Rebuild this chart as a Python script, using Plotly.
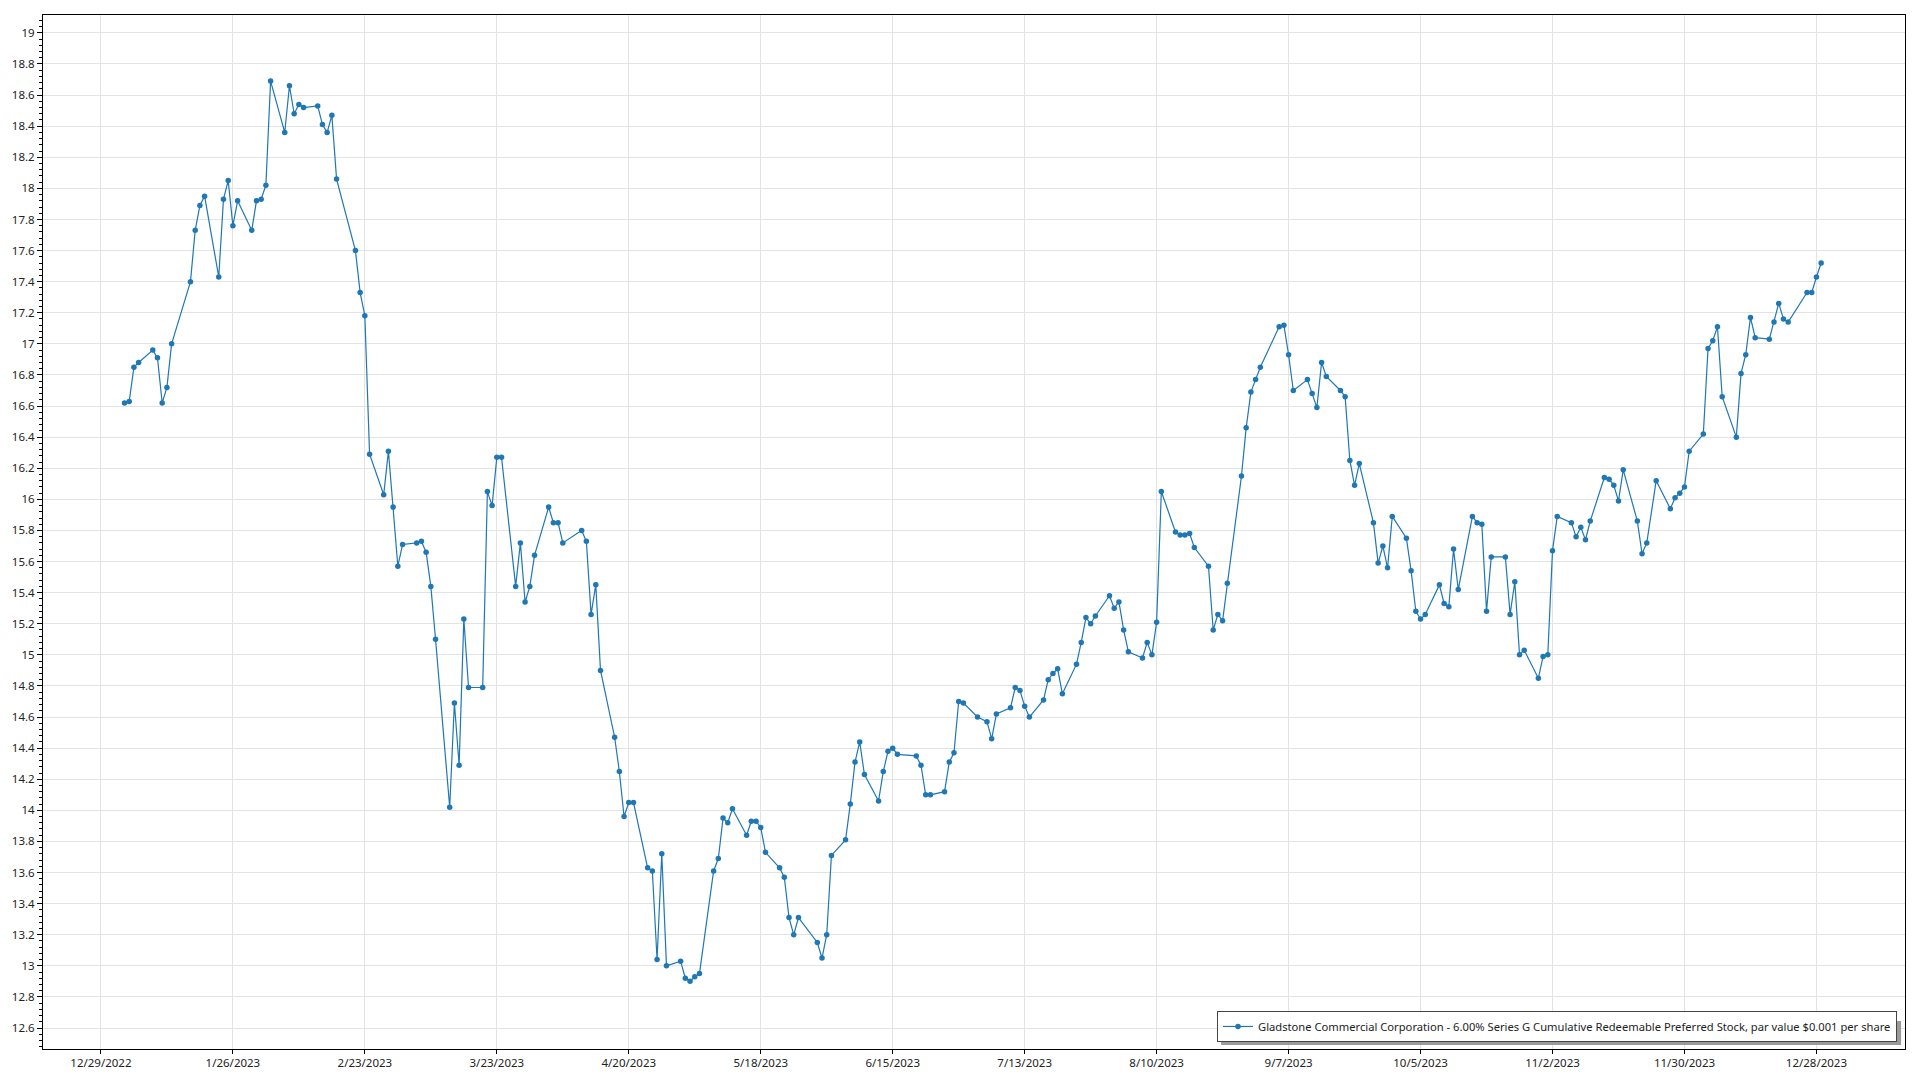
import pandas as pd
import plotly.graph_objects as go

# NYSE holidays 2023 (no trading)
holidays = ["2023-01-02", "2023-01-16", "2023-02-20", "2023-04-07", "2023-05-29",
            "2023-06-19", "2023-07-04", "2023-09-04", "2023-11-23", "2023-12-25"]

jan = [16.62, 16.63, 16.85, 16.88, 16.96, 16.91, 16.62, 16.72, 17.00, 17.40,
       17.73, 17.89, 17.95, 17.43, 17.93, 18.05, 17.76, 17.92, 17.73, 17.92]
feb = [17.93, 18.02, 18.69, 18.36, 18.66, 18.48, 18.54, 18.52, 18.53, 18.41,
       18.36, 18.47, 18.06, 17.60, 17.33, 17.18, 16.29, 16.03, 16.31]
mar = [15.95, 15.57, 15.71, 15.72, 15.73, 15.66, 15.44, 15.10, 14.02, 14.69,
       14.29, 15.23, 14.79, 14.79, 16.05, 15.96, 16.27, 16.27, 15.44, 15.72,
       15.34, 15.44, 15.64]
apr = [15.95, 15.85, 15.85, 15.72, 15.80, 15.73, 15.26, 15.45, 14.90, 14.47,
       14.25, 13.96, 14.05, 14.05, 13.63, 13.61, 13.04, 13.72, 13.00]
may = [13.03, 12.92, 12.90, 12.93, 12.95, 13.61, 13.69, 13.95, 13.92, 14.01,
       13.84, 13.93, 13.93, 13.89, 13.73, 13.63, 13.57, 13.31, 13.20, 13.31,
       13.15, 13.05]
jun = [13.20, 13.71, 13.81, 14.04, 14.31, 14.44, 14.23, 14.06, 14.25, 14.38,
       14.40, 14.36, 14.35, 14.29, 14.10, 14.10, 14.12, 14.31, 14.37, 14.70, 14.69]
jul = [14.60, 14.57, 14.46, 14.62, 14.66, 14.79, 14.77, 14.67, 14.60, 14.71,
       14.84, 14.88, 14.91, 14.75, 14.94, 15.08, 15.24, 15.20, 15.25, 15.38]
aug = [15.30, 15.34, 15.16, 15.02, 14.98, 15.08, 15.00, 15.21, 16.05, 15.79,
       15.77, 15.77, 15.78, 15.69, 15.57, 15.16, 15.26, 15.22, 15.46, 16.15,
       16.46, 16.69, 16.77]
sep = [16.85, 17.11, 17.12, 16.93, 16.70, 16.77, 16.68, 16.59, 16.88, 16.79,
       16.70, 16.66, 16.25, 16.09, 16.23, 15.85, 15.59, 15.70, 15.56, 15.89]
oct_ = [15.75, 15.54, 15.28, 15.23, 15.26, 15.45, 15.33, 15.31, 15.68, 15.42,
        15.89, 15.85, 15.84, 15.28, 15.63, 15.63, 15.26, 15.47, 15.00, 15.03,
        14.85, 14.99]
nov = [15.00, 15.67, 15.89, 15.85, 15.76, 15.82, 15.74, 15.86, 16.14, 16.13,
       16.09, 15.99, 16.19, 15.86, 15.65, 15.72, 16.12, 15.94, 16.01, 16.04, 16.08]
dec = [16.31, 16.42, 16.97, 17.02, 17.11, 16.66, 16.40, 16.81, 16.93, 17.17,
       17.04, 17.03, 17.14, 17.26, 17.16, 17.14, 17.33, 17.33, 17.43, 17.52]

prices = jan + feb + mar + apr + may + jun + jul + aug + sep + oct_ + nov + dec
dates = pd.bdate_range("2023-01-03", "2023-12-29", freq="C", holidays=holidays)

series_name = ("Gladstone Commercial Corporation - 6.00% Series G Cumulative "
               "Redeemable Preferred Stock, par value $0.001 per share")

blue = "#1f77b4"
font_family = "Noto Sans, Open Sans, sans-serif"

fig = go.Figure()
fig.add_trace(go.Scatter(
    x=dates, y=prices, mode="lines+markers", name=series_name,
    line=dict(color=blue, width=1.2),
    marker=dict(color=blue, size=5.5, symbol="circle"),
    showlegend=True,
))

# soft shadow behind the legend box
fig.add_shape(type="rect", xref="paper", yref="paper",
              x0=0.6327, x1=0.9979, y0=0.0039, y1=0.0271,
              fillcolor="#9a9a9a", line=dict(width=0), layer="above")

fig.update_layout(
    width=1920, height=1080,
    margin=dict(l=35, r=23, t=7, b=39, autoexpand=False),
    paper_bgcolor="white", plot_bgcolor="white",
    font=dict(family=font_family, size=11.5, color="#222222"),
    legend=dict(
        x=0.9957, y=0.0068, xanchor="right", yanchor="bottom",
        bgcolor="white", bordercolor="#444444", borderwidth=1,
        font=dict(size=11.2, color="#222222"),
        tracegroupgap=0, itemwidth=30,
    ),
    xaxis=dict(
        type="date", automargin=False,
        range=["2022-12-16 17:00", "2024-01-15 19:00"],
        tick0="2022-12-29", dtick=28 * 86400000,
        tickformat="%-m/%-d/%Y",
        showgrid=True, gridcolor="#e3e3e3", gridwidth=1,
        showline=True, linecolor="black", linewidth=1, mirror=True,
        ticks="outside", ticklen=4, tickcolor="black",
        ticklabelstandoff=-1,
        zeroline=False,
    ),
    yaxis=dict(
        automargin=False,
        range=[12.465, 19.115],
        tick0=12.6, dtick=0.2,
        showgrid=True, gridcolor="#e3e3e3", gridwidth=1,
        showline=True, linecolor="black", linewidth=1, mirror=True,
        ticks="outside", ticklen=5, tickcolor="black",
        minor=dict(ticks="outside", ticklen=3, dtick=0.04, tickcolor="black", showgrid=False),
        zeroline=False,
    ),
)

fig.write_html("out.html")
